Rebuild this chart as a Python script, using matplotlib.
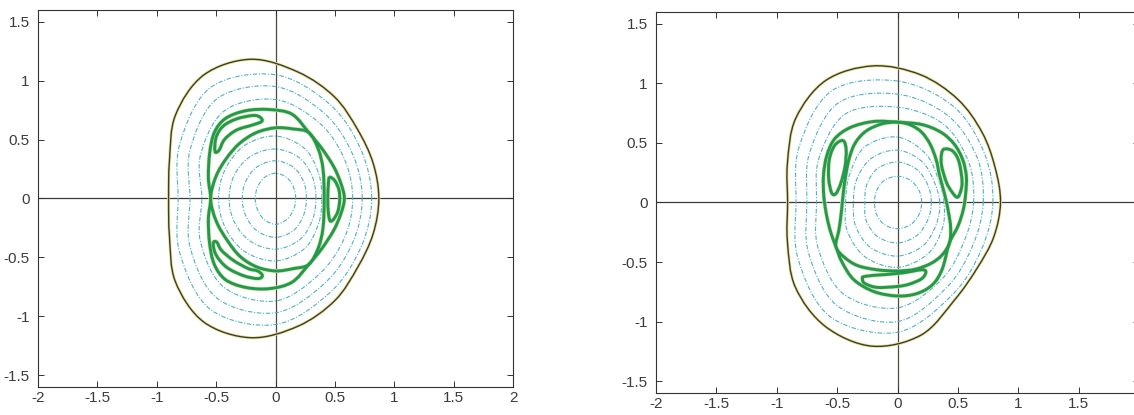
import numpy as np
import matplotlib
matplotlib.use("Agg")
import matplotlib.pyplot as plt
from matplotlib.path import Path
from matplotlib.patches import PathPatch

# ---- values ----
x_ticks = [-2, -1.5, -1, -0.5, 0, 0.5, 1, 1.5, 2]
y_ticks = [-1.5, -1, -0.5, 0, 0.5, 1, 1.5]
x_labels = ["-2", "-1.5", "-1", "-0.5", "0", "0.5", "1", "1.5", "2"]
# the right panel is cut at the page edge, its "2" is not visible
x_labels_right = ["-2", "-1.5", "-1", "-0.5", "0", "0.5", "1", "1.5", ""]
y_labels = ["-1.5", "-1", "-0.5", "0", "0.5", "1", "1.5"]

ring_angles = [0, 30, 60, 90, 120, 150, 180, 210, 240, 270, 300, 330]
edge_angles = [0, 20, 40, 60, 80, 100, 120, 140, 160, 180,
               200, 220, 240, 260, 280, 300, 320, 340]

# left panel: cyan rings (radius at each angle)
left_rings = [
    [0.17, 0.178, 0.20, 0.215, 0.20, 0.178, 0.17, 0.178, 0.20, 0.22, 0.20, 0.178],
    [0.26, 0.275, 0.305, 0.32, 0.31, 0.29, 0.28, 0.29, 0.315, 0.33, 0.31, 0.275],
    [0.34, 0.36, 0.40, 0.42, 0.415, 0.40, 0.39, 0.40, 0.42, 0.43, 0.405, 0.36],
    [0.39, 0.42, 0.49, 0.53, 0.52, 0.49, 0.48, 0.49, 0.52, 0.53, 0.49, 0.42],
    [0.65, 0.67, 0.74, 0.84, 0.86, 0.73, 0.62, 0.73, 0.87, 0.87, 0.74, 0.67],
    [0.73, 0.75, 0.83, 0.95, 0.98, 0.83, 0.72, 0.83, 0.98, 0.97, 0.83, 0.75],
    [0.81, 0.83, 0.92, 1.05, 1.09, 0.93, 0.82, 0.93, 1.09, 1.07, 0.92, 0.83],
]
left_boundary = [0.87, 0.875, 0.905, 0.995, 1.09, 1.20, 1.21, 1.10, 0.95,
                 0.90, 0.95, 1.10, 1.21, 1.20, 1.10, 1.0, 0.905, 0.875]
left_outer_sep = [(-0.546, 0), (-0.565, 0.17), (-0.555, 0.38), (-0.515, 0.56), (-0.42, 0.68),
                  (-0.25, 0.745), (-0.05, 0.755), (0.14, 0.715), (0.28, 0.56), (0.39, 0.425),
                  (0.49, 0.27), (0.55, 0.13), (0.58, 0), (0.55, -0.13), (0.49, -0.27),
                  (0.39, -0.425), (0.28, -0.56), (0.14, -0.71), (-0.05, -0.765), (-0.25, -0.755),
                  (-0.42, -0.69), (-0.515, -0.56), (-0.555, -0.38), (-0.565, -0.17)]
left_inner_sep = [(-0.546, 0), (-0.50, 0.19), (-0.41, 0.345), (-0.30, 0.47), (-0.16, 0.56),
                  (0, 0.60), (0.15, 0.59), (0.28, 0.56), (0.36, 0.42), (0.40, 0.25),
                  (0.41, 0), (0.40, -0.25), (0.36, -0.42), (0.28, -0.56), (0.15, -0.595),
                  (0, -0.615), (-0.16, -0.58), (-0.30, -0.49), (-0.41, -0.35), (-0.50, -0.19)]
left_islands = [
    [(-0.51, 0.40), (-0.50, 0.52), (-0.44, 0.615), (-0.33, 0.675), (-0.19, 0.705),
     (-0.13, 0.69), (-0.115, 0.655), (-0.19, 0.625), (-0.33, 0.58), (-0.43, 0.50),
     (-0.475, 0.41)],
    [(0.455, 0.18), (0.50, 0.15), (0.535, 0.07), (0.54, -0.02), (0.525, -0.11),
     (0.49, -0.175), (0.46, -0.19), (0.445, -0.12), (0.44, 0.0), (0.445, 0.12)],
    [(-0.525, -0.38), (-0.50, -0.48), (-0.41, -0.585), (-0.27, -0.655), (-0.15, -0.68),
     (-0.11, -0.655), (-0.15, -0.615), (-0.23, -0.595), (-0.355, -0.525), (-0.455, -0.44),
     (-0.495, -0.37)],
]

# right panel
right_rings = [
    [0.20, 0.205, 0.215, 0.22, 0.215, 0.20, 0.19, 0.20, 0.215, 0.22, 0.215, 0.205],
    [0.28, 0.29, 0.32, 0.34, 0.33, 0.295, 0.27, 0.30, 0.33, 0.34, 0.32, 0.29],
    [0.35, 0.35, 0.40, 0.44, 0.43, 0.39, 0.365, 0.40, 0.44, 0.45, 0.42, 0.37],
    [0.385, 0.39, 0.47, 0.55, 0.54, 0.46, 0.43, 0.48, 0.53, 0.545, 0.50, 0.43],
    [0.63, 0.68, 0.76, 0.80, 0.86, 0.75, 0.67, 0.76, 0.89, 0.885, 0.74, 0.64],
    [0.71, 0.76, 0.84, 0.91, 0.97, 0.84, 0.75, 0.85, 1.0, 1.0, 0.82, 0.72],
    [0.79, 0.83, 0.93, 1.02, 1.085, 0.94, 0.84, 0.95, 1.11, 1.09, 0.90, 0.80],
]
right_boundary = [0.853, 0.86, 0.915, 1.0, 1.09, 1.165, 1.185, 1.10, 0.97,
                  0.91, 0.97, 1.105, 1.20, 1.225, 1.13, 0.945, 0.86, 0.848]
right_outer_sep = [(0, 0.675), (-0.20, 0.68), (-0.39, 0.63), (-0.52, 0.535), (-0.585, 0.395),
                   (-0.613, 0.228), (-0.61, 0.05), (-0.585, -0.12), (-0.55, -0.26), (-0.51, -0.37),
                   (-0.46, -0.50), (-0.36, -0.65), (-0.19, -0.75), (0, -0.785), (0.16, -0.765),
                   (0.29, -0.69), (0.37, -0.56), (0.43, -0.34), (0.50, -0.20), (0.545, -0.06),
                   (0.565, 0.08), (0.57, 0.22), (0.54, 0.36), (0.47, 0.49), (0.36, 0.59),
                   (0.20, 0.655)]
right_inner_sep = [(0, 0.675), (-0.13, 0.66), (-0.26, 0.60), (-0.35, 0.50), (-0.40, 0.37),
                   (-0.43, 0.22), (-0.45, 0.07), (-0.465, -0.08), (-0.485, -0.23), (-0.51, -0.37),
                   (-0.44, -0.46), (-0.33, -0.53), (-0.17, -0.565), (0, -0.575), (0.15, -0.56),
                   (0.28, -0.51), (0.37, -0.44), (0.43, -0.34), (0.44, -0.21), (0.42, -0.07),
                   (0.39, 0.07), (0.35, 0.22), (0.32, 0.36), (0.27, 0.49), (0.20, 0.59),
                   (0.11, 0.65)]
right_islands = [
    [(-0.45, 0.52), (-0.425, 0.44), (-0.435, 0.30), (-0.47, 0.16), (-0.51, 0.075),
     (-0.545, 0.08), (-0.57, 0.2), (-0.565, 0.36), (-0.52, 0.48)],
    [(0.39, 0.45), (0.46, 0.43), (0.51, 0.34), (0.535, 0.17), (0.515, 0.07),
     (0.49, 0.045), (0.45, 0.09), (0.405, 0.17), (0.365, 0.31), (0.365, 0.41)],
    [(-0.27, -0.62), (-0.1, -0.605), (0.05, -0.59), (0.2, -0.565), (0.235, -0.585),
     (0.2, -0.64), (0.1, -0.685), (0, -0.705), (-0.17, -0.713), (-0.27, -0.68),
     (-0.29, -0.645)],
]

GREEN = "#22994f"
CYAN = "#4fb0c6"
DARK = "#3d3d2c"
HALO = "#e9e39a"


def closed_curve(ax, pts, **kw):
    # smooth closed path through the read points (Catmull-Rom as Bezier)
    P = np.asarray(pts, dtype=float)
    n = len(P)
    verts = [P[0]]
    codes = [Path.MOVETO]
    for i in range(n):
        p0, p1, p2, p3 = P[i - 1], P[i], P[(i + 1) % n], P[(i + 2) % n]
        verts += [p1 + (p2 - p0) / 6, p2 - (p3 - p1) / 6, p2]
        codes += [Path.CURVE4] * 3
    ax.add_patch(PathPatch(Path(verts, codes), fill=False, **kw))


def polar_pts(radii, angles):
    a = np.radians(angles)
    r = np.asarray(radii)
    return np.column_stack([r * np.cos(a), r * np.sin(a)])


def panel(ax, rings, boundary, outer, inner, islands, xlabels):
    ax.set_xlim(-2, 2)
    ax.set_ylim(-1.6, 1.6)
    ax.axhline(0, color="#3a3a3a", lw=0.9, zorder=1)
    ax.axvline(0, color="#4a4a3a", lw=0.9, zorder=1)
    for r in rings:
        closed_curve(ax, polar_pts(r, ring_angles), color=CYAN, lw=0.8,
                     linestyle=(0, (4, 1.5, 1, 1.5)), zorder=2)
    edge = polar_pts(boundary, edge_angles)
    closed_curve(ax, edge, color=HALO, lw=2.2, zorder=3)
    closed_curve(ax, edge, color=DARK, lw=1.0, zorder=3)
    for c in [outer, inner] + islands:
        closed_curve(ax, c, color="#cfe3a0", lw=3.0, zorder=4)
    for c in [outer, inner] + islands:
        closed_curve(ax, c, color=GREEN, lw=2.1, zorder=5)
    ax.set_xticks(x_ticks)
    ax.set_xticklabels(xlabels)
    ax.set_yticks(y_ticks)
    ax.set_yticklabels(y_labels)
    ax.tick_params(direction="in", length=4, width=0.7, top=True, right=True,
                   labelsize=11, labelcolor="#3c3c3c", color="#333333", pad=6)
    ax.tick_params(axis="x", pad=3)
    for s in ax.spines.values():
        s.set_color("#333333")
        s.set_linewidth(0.8)


plt.rcParams["font.family"] = ["Liberation Sans", "DejaVu Sans"]
fig = plt.figure(figsize=(11.34, 4.15), dpi=100)
ax1 = fig.add_axes([0.0335, 0.0675, 0.4189, 0.9084])
ax2 = fig.add_axes([0.5785, 0.0530, 0.4259, 0.9181])
panel(ax1, left_rings, left_boundary, left_outer_sep, left_inner_sep, left_islands, x_labels)
panel(ax2, right_rings, right_boundary, right_outer_sep, right_inner_sep, right_islands,
      x_labels_right)
fig.savefig("out.png", dpi=100)
